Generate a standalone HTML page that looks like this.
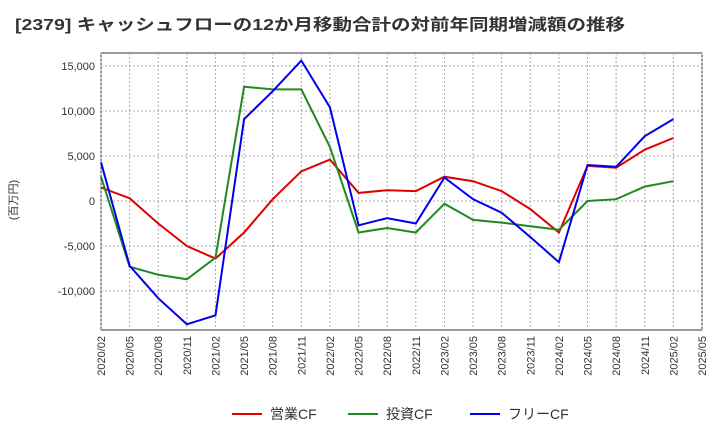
<!DOCTYPE html>
<html><head><meta charset="utf-8"><style>
body{margin:0;background:#fff;font-family:"Liberation Sans","Noto Sans CJK JP",sans-serif}
</style></head><body>
<svg id="c" width="720" height="440" xmlns="http://www.w3.org/2000/svg">
<text x="15" y="30" font-size="16" font-weight="bold" fill="#333" textLength="610" lengthAdjust="spacingAndGlyphs" font-family="Liberation Sans,Noto Sans CJK JP,sans-serif">[2379]  キャッシュフローの12か月移動合計の対前年同期増減額の推移</text>
<text transform="translate(17,200) rotate(-90)" font-size="11" fill="#333" text-anchor="middle" font-family="Liberation Sans,Noto Sans CJK JP,sans-serif">(百万円)</text>
<g id="grid"></g><g id="axes"></g><g id="series"></g><g id="legend"></g>
</svg>
<script>
const categories=["2020/02","2020/05","2020/08","2020/11","2021/02","2021/05","2021/08","2021/11","2022/02","2022/05","2022/08","2022/11","2023/02","2023/05","2023/08","2023/11","2024/02","2024/05","2024/08","2024/11","2025/02","2025/05"];
const operatingCF=[1500,300,-2500,-5000,-6400,-3500,200,3300,4600,900,1200,1100,2700,2200,1100,-900,-3500,3900,3700,5700,7000];
const investingCF=[2700,-7300,-8200,-8700,-6300,12700,12400,12400,6000,-3500,-3000,-3500,-300,-2100,-2400,-2800,-3200,0,200,1600,2200];
const freeCF=[4300,-7200,-10800,-13700,-12700,9100,12200,15600,10400,-2700,-1900,-2500,2600,200,-1300,-4000,-6800,4000,3800,7200,9100];
const yTicks=[15000,10000,5000,0,-5000,-10000];
const yTickLabels=["15,000","10,000","5,000","0","-5,000","-10,000"];
const NS="http://www.w3.org/2000/svg";
const L=101,R=702,T=53,B=330;
const xs=i=>L+i*(R-L)/21;
const ys=v=>201-v*45/5000;
function mk(tag,attrs,parent,text){const e=document.createElementNS(NS,tag);for(const k in attrs)e.setAttribute(k,attrs[k]);if(text!==undefined)e.textContent=text;parent.appendChild(e);return e;}
const grid=document.getElementById('grid'),axes=document.getElementById('axes'),series=document.getElementById('series'),legend=document.getElementById('legend');
const bg=mk('rect',{x:L,y:T,width:R-L,height:B-T,fill:'#fff',stroke:'#333','stroke-width':1},grid);


yTicks.forEach((v,i)=>{
 const g=mk('line',{x1:L,x2:R,y1:ys(v),y2:ys(v),stroke:'#aaa','stroke-dasharray':'2,2'},grid);
 
 
 const t=mk('text',{x:L-6,y:ys(v)+4,'font-size':11,'text-anchor':'end',fill:'#333'},axes,yTickLabels[i]);
 
 
});
categories.forEach((c,i)=>{
 const x=xs(i);
 const g=mk('line',{x1:x,x2:x,y1:T,y2:B,stroke:'#aaa','stroke-dasharray':'2,2'},grid);
 
 
 const t=mk('text',{transform:`translate(${x+4},${B+6}) rotate(-90)`,'font-size':11,'text-anchor':'end',fill:'#333'},axes,c);
 
 
});
const defs=[[operatingCF,'#e00000','営業CF','operating-cf-line'],[investingCF,'#228822','投資CF','investing-cf-line'],[freeCF,'#0000ee','フリーCF','free-cf-line']];
defs.forEach(([d,col,name,dn],k)=>{
 const p=mk('polyline',{points:d.map((v,i)=>xs(i)+','+ys(v)).join(' '),fill:'none',stroke:col,'stroke-width':2},series);
 
 
 const lx=[232,348,470][k];
 const ll=mk('line',{x1:lx,x2:lx+30,y1:414,y2:414,stroke:col,'stroke-width':2},legend);
 
 
 const lt=mk('text',{x:lx+38,y:419,'font-size':14,fill:'#333'},legend,name);
 
 
});
</script>
</body></html>
